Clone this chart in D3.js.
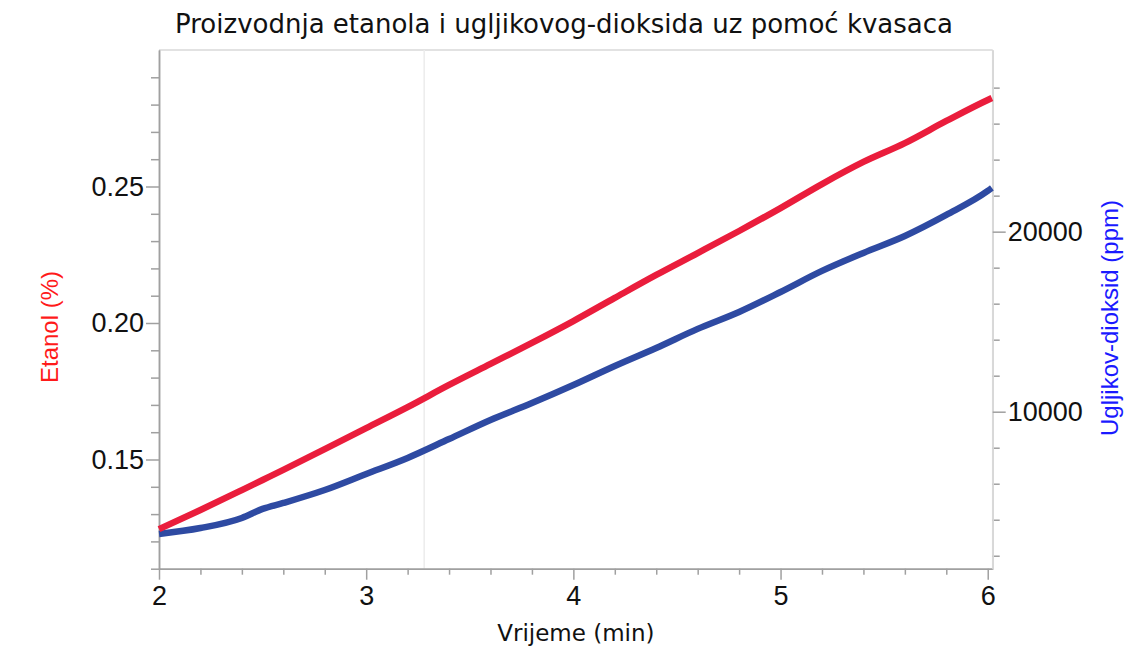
<!DOCTYPE html>
<html>
<head>
<meta charset="utf-8">
<script src="https://cdn.jsdelivr.net/npm/d3@7"></script>
<style>
  html, body { margin: 0; padding: 0; background: #fff; }
  svg { display: block; }
</style>
</head>
<body>
<svg id="chart" width="1144" height="647"></svg>
<script>
// ---- data ----
const time = [2.0, 2.2, 2.4, 2.5, 2.6, 2.8, 3.0, 3.2, 3.4, 3.6, 3.8, 4.0, 4.2, 4.4, 4.6, 4.8, 5.0, 5.2, 5.4, 5.6, 5.8, 6.0, 6.02];
const etanol = [0.1245, 0.1315, 0.1388, 0.1425, 0.1462, 0.1538, 0.1615, 0.1692, 0.1773, 0.1850, 0.1927, 0.2007, 0.2092, 0.2176, 0.2256, 0.2337, 0.2421, 0.2509, 0.2590, 0.2659, 0.2740, 0.2817, 0.2824];
const co2 = [3210, 3540, 4100, 4600, 4930, 5650, 6540, 7430, 8480, 9540, 10480, 11480, 12540, 13540, 14600, 15540, 16650, 17820, 18820, 19760, 20930, 22260, 22430];

const xTickMajor = [2, 3, 4, 5, 6];
const yLeftMajor = [0.15, 0.20, 0.25];
const yRightMajor = [10000, 20000];
const cursorTime = 3.28;

const title = "Proizvodnja etanola i ugljikovog-dioksida uz pomoć kvasaca";
const xLabel = "Vrijeme (min)";
const yLeftLabel = "Etanol (%)";
const yRightLabel = "Ugljikov-dioksid (ppm)";

// ---- layout ----
const L = 159, R = 992.7, T = 50, B = 568.7;
const svg = d3.select("#chart");

const x = d3.scaleLinear().domain([2, 6.024]).range([L, R]);
const yL = d3.scaleLinear().domain([0.11, 0.30]).range([B, T]);
const yR = d3.scaleLinear().domain([1280, 30090]).range([B, T]);

const tickFont = "'Liberation Sans', Arial, sans-serif";
const labelFont = "'DejaVu Sans', Verdana, sans-serif";
const gridGrey = "#d9d9d9";
const axisGrey = "#a0a0a0";

// plot frame (top/right light)
svg.append("line").attr("x1", L).attr("x2", R).attr("y1", T).attr("y2", T).attr("stroke", gridGrey).attr("stroke-width", 1.5);
svg.append("line").attr("x1", R).attr("x2", R).attr("y1", T).attr("y2", B).attr("stroke", gridGrey).attr("stroke-width", 1.5);

// cursor line
svg.append("line").attr("x1", x(cursorTime)).attr("x2", x(cursorTime)).attr("y1", T).attr("y2", B)
  .attr("stroke", "#ececec").attr("stroke-width", 1.5);

function styleAxis(g) {
  g.select(".domain").attr("stroke", axisGrey).attr("stroke-width", 1.5);
  g.selectAll(".tick line").attr("stroke", axisGrey).attr("stroke-width", 1.5);
  g.selectAll(".tick text").attr("fill", "#111").style("font-family", tickFont).style("font-size", "27px");
}

// x axis minor + major
const xMinor = d3.range(2.2, 6.01, 0.2).filter(v => Math.abs(v - Math.round(v)) > 1e-6);
svg.append("g").attr("transform", `translate(0,${B})`)
  .call(d3.axisBottom(x).tickValues(xMinor).tickSize(6).tickFormat("").tickSizeOuter(0))
  .call(styleAxis);
svg.append("g").attr("transform", `translate(0,${B})`)
  .call(d3.axisBottom(x).tickValues(xTickMajor).tickSize(11).tickPadding(6).tickFormat(d3.format("d")).tickSizeOuter(0))
  .call(styleAxis);

// left axis
const yLMinor = d3.range(0.11, 0.295, 0.01).filter(v => !yLeftMajor.some(m => Math.abs(m - v) < 1e-6));
svg.append("g").attr("transform", `translate(${L},0)`)
  .call(d3.axisLeft(yL).tickValues(yLMinor).tickSize(8).tickFormat("").tickSizeOuter(0))
  .call(styleAxis);
svg.append("g").attr("transform", `translate(${L},0)`)
  .call(d3.axisLeft(yL).tickValues(yLeftMajor).tickSize(13).tickPadding(2).tickFormat(d3.format(".2f")).tickSizeOuter(0))
  .call(styleAxis);

// right axis
const yRMinor = d3.range(2000, 28001, 2000).filter(v => !yRightMajor.includes(v));
svg.append("g").attr("transform", `translate(${R},0)`)
  .call(d3.axisRight(yR).tickValues(yRMinor).tickSize(7).tickFormat("").tickSizeOuter(0))
  .call(styleAxis)
  .call(g => g.select(".domain").attr("stroke", gridGrey));
svg.append("g").attr("transform", `translate(${R},0)`)
  .call(d3.axisRight(yR).tickValues(yRightMajor).tickSize(13).tickPadding(2).tickFormat(d3.format("d")).tickSizeOuter(0))
  .call(styleAxis)
  .call(g => g.select(".domain").attr("stroke", gridGrey));

// lines
const redLine = d3.line().x((d, i) => x(time[i])).y(d => yL(d)).curve(d3.curveMonotoneX);
const blueLine = d3.line().x((d, i) => x(time[i])).y(d => yR(d)).curve(d3.curveMonotoneX);

svg.append("path").datum(co2).attr("d", blueLine)
  .attr("fill", "none").attr("stroke", "#2e4aa2").attr("stroke-width", 6.5).attr("stroke-linejoin", "round");
svg.append("path").datum(etanol).attr("d", redLine)
  .attr("fill", "none").attr("stroke", "#ea1d3c").attr("stroke-width", 6.5).attr("stroke-linejoin", "round");

// title
svg.append("text").attr("x", 564).attr("y", 33).attr("text-anchor", "middle")
  .style("font-family", labelFont).style("font-size", "26px").attr("fill", "#111").text(title);

// x label
svg.append("text").attr("x", (L + R) / 2).attr("y", 641).attr("text-anchor", "middle")
  .style("font-family", labelFont).style("font-size", "23px").attr("fill", "#111").text(xLabel);

// left label
svg.append("text").attr("transform", `translate(58,327) rotate(-90)`).attr("text-anchor", "middle")
  .style("font-family", tickFont).style("font-size", "24px").attr("fill", "#ff1a1a").text(yLeftLabel);

// right label
svg.append("text").attr("transform", `translate(1118,318) rotate(-90)`).attr("text-anchor", "middle")
  .style("font-family", tickFont).style("font-size", "24px").attr("fill", "#1a1aff").text(yRightLabel);
</script>
</body>
</html>
